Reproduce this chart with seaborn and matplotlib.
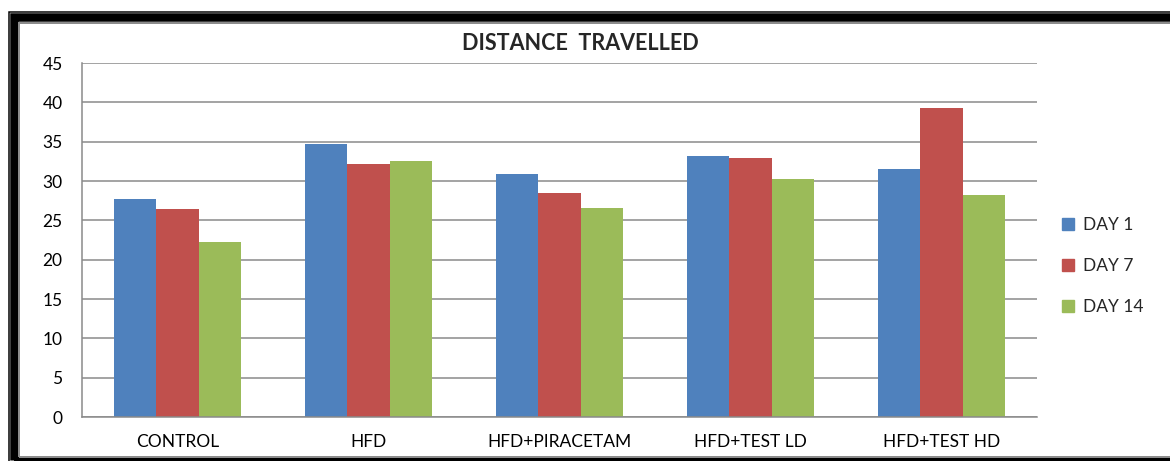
import matplotlib
matplotlib.use("Agg")
import matplotlib.pyplot as plt
from matplotlib.patches import Rectangle
from matplotlib.lines import Line2D
import seaborn as sns
import pandas as pd

# Group names, time points and mean distance travelled
groups = ["CONTROL", "HFD", "HFD+PIRACETAM", "HFD+TEST LD", "HFD+TEST HD"]
days = ["DAY 1", "DAY 7", "DAY 14"]
day1 = [27.7, 34.7, 30.9, 33.2, 31.5]
day7 = [26.5, 32.2, 28.5, 32.9, 39.3]
day14 = [22.2, 32.5, 26.6, 30.2, 28.2]
yticks = [0, 5, 10, 15, 20, 25, 30, 35, 40, 45]

colors = ["#4F81BD", "#C0504D", "#9BBB59"]

df = pd.DataFrame({
    "group": groups * 3,
    "day": [d for d in days for _ in groups],
    "distance": day1 + day7 + day14,
})

sns.set_theme(style="white")
plt.rcParams["font.family"] = ["Lato", "DejaVu Sans"]

W, H = 1170, 461
fig = plt.figure(figsize=(W / 100, H / 100), dpi=100)
fig.patch.set_facecolor("white")

def px(x, y):
    return x / W, 1 - y / H

left, right, top, bottom = 82, 1037, 63, 417
ax = fig.add_axes([left / W, 1 - bottom / H, (right - left) / W, (bottom - top) / H])

sns.barplot(data=df, x="group", y="distance", hue="day", order=groups,
            hue_order=days, palette=colors, width=0.66, saturation=1,
            linewidth=0, ax=ax, legend=False, errorbar=None)

ax.set_ylim(0, 45)
ax.set_xlim(-0.5, len(groups) - 0.5)
ax.set_yticks(yticks)
ax.set_yticklabels([str(v) for v in yticks])
ax.yaxis.grid(True, color="#8A8A8A", linewidth=1.1)
ax.set_axisbelow(True)
ax.set_xlabel("")
ax.set_ylabel("")
for s in ["top", "right"]:
    ax.spines[s].set_visible(False)
for s in ["left", "bottom"]:
    ax.spines[s].set_color("#8A8A8A")
    ax.spines[s].set_linewidth(1.1)
ax.tick_params(axis="both", length=0, labelsize=12.5, colors="black")
ax.tick_params(axis="y", pad=14)
ax.tick_params(axis="x", pad=12)

fig.text(580 / W, 1 - 43 / H, "DISTANCE  TRAVELLED", ha="center", va="center",
         fontsize=15.5, fontweight="bold")

handles = [Line2D([], [], marker="s", linestyle="none", markersize=9,
                  markerfacecolor=c, markeredgecolor=c) for c in colors]
fig.legend(handles, days, loc="center left", bbox_to_anchor=px(1052, 266),
           frameon=False, fontsize=12.5, handlelength=0.8, handletextpad=0.5,
           labelspacing=1.45, borderpad=0)

# Decorative border around the chart
def lw(p):
    return p * 72 / 100

fig.add_artist(Rectangle(px(8.5, 470), 1300 / W, (470 - 11.5) / H,
                         transform=fig.transFigure, fill=False,
                         edgecolor="black", linewidth=lw(1.5)))
fig.add_artist(Rectangle(px(14, 460), 1300 / W, (460 - 17.5) / H,
                         transform=fig.transFigure, fill=False,
                         edgecolor="black", linewidth=lw(8.5)))
fig.add_artist(Rectangle(px(18.5, 457), 1300 / W, (457 - 23) / H,
                         transform=fig.transFigure, fill=False,
                         edgecolor="#8C8C8C", linewidth=lw(2)))

fig.savefig("out.png", dpi=100, facecolor="white")
